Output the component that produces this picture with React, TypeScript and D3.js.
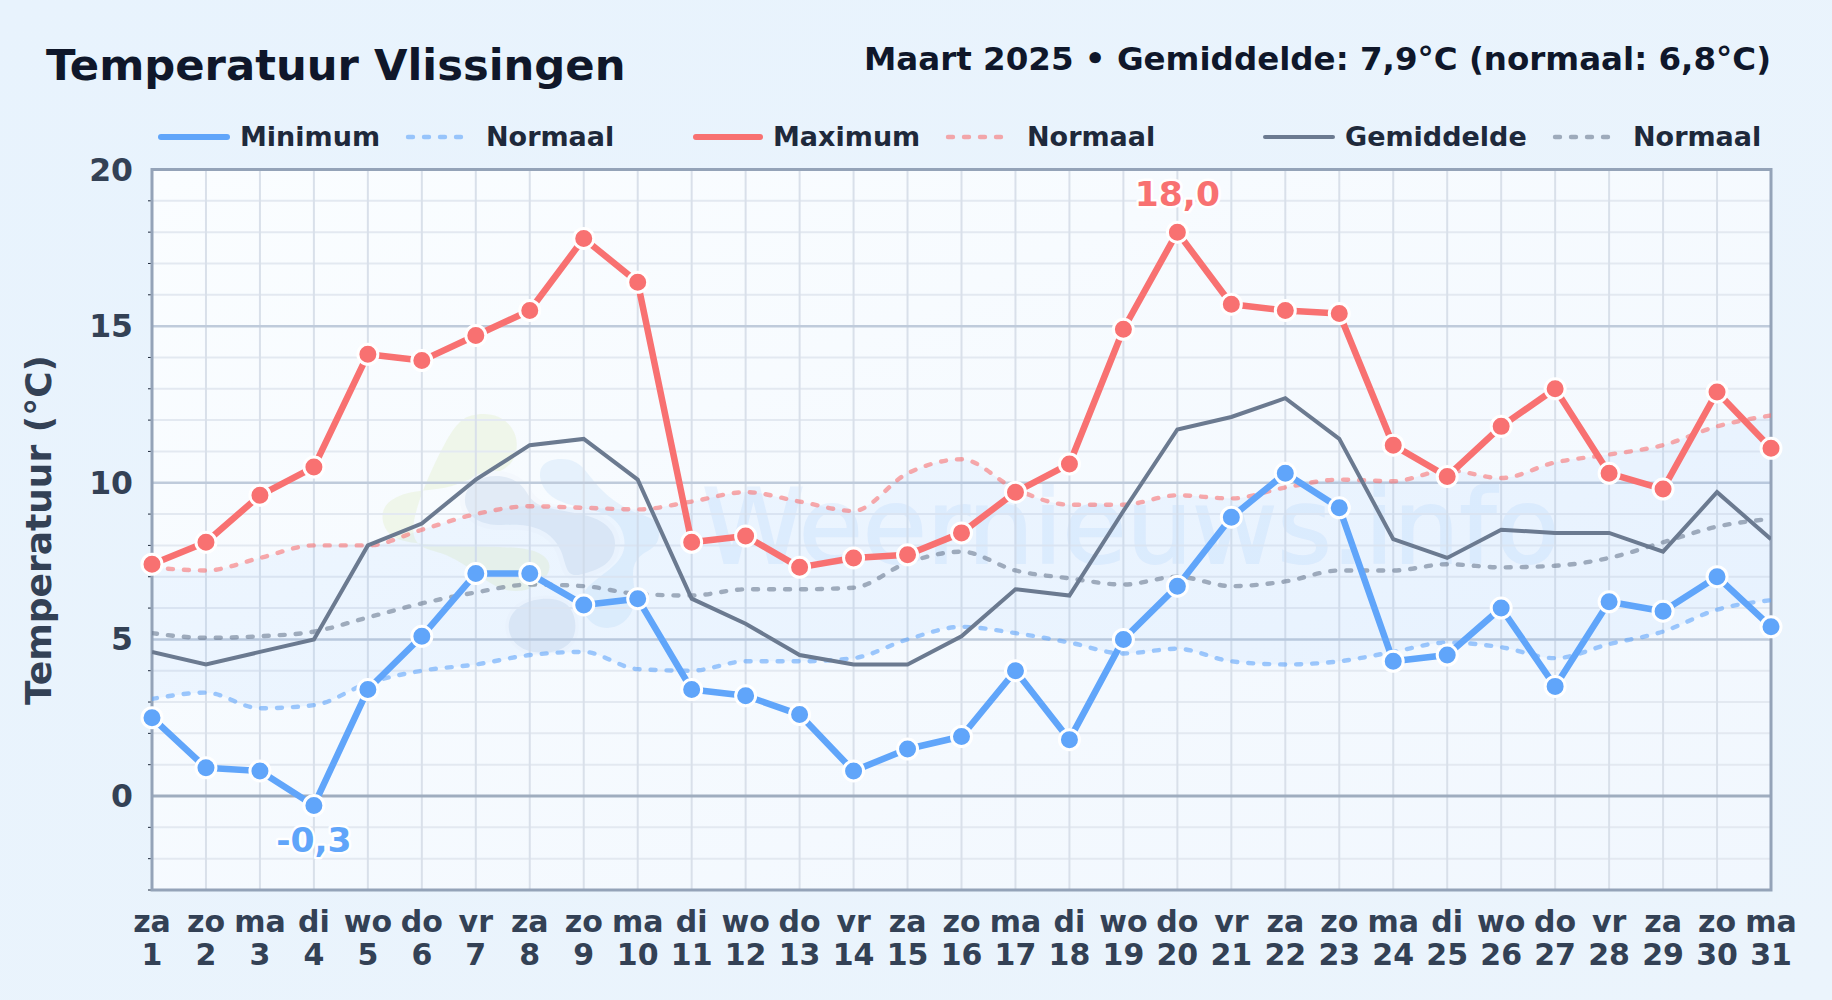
import React, { useEffect } from 'react';
import * as d3 from 'd3';

const weekdays = ['za','zo','ma','di','wo','do','vr','za','zo','ma','di','wo','do','vr','za','zo','ma','di','wo','do','vr','za','zo','ma','di','wo','do','vr','za','zo','ma'];
const days = d3.range(1, 32);

const minimum = [2.5,0.9,0.8,-0.3,3.4,5.1,7.1,7.1,6.1,6.3,3.4,3.2,2.6,0.8,1.5,1.9,4.0,1.8,5.0,6.7,8.9,10.3,9.2,4.3,4.5,6.0,3.5,6.2,5.9,7.0,5.4];
const maximum = [7.4,8.1,9.6,10.5,14.1,13.9,14.7,15.5,17.8,16.4,8.1,8.3,7.3,7.6,7.7,8.4,9.7,10.6,14.9,18.0,15.7,15.5,15.4,11.2,10.2,11.8,13.0,10.3,9.8,12.9,11.1];
const gemiddelde = [4.6,4.2,4.6,5.0,8.0,8.7,10.1,11.2,11.4,10.1,6.3,5.5,4.5,4.2,4.2,5.1,6.6,6.4,9.1,11.7,12.1,12.7,11.4,8.2,7.6,8.5,8.4,8.4,7.8,9.7,8.2];
const normaalMin = [3.1,3.3,2.8,2.9,3.6,4.0,4.2,4.5,4.6,4.05,4.0,4.3,4.3,4.4,5.0,5.4,5.2,4.9,4.55,4.7,4.3,4.2,4.3,4.6,4.9,4.75,4.4,4.85,5.25,5.95,6.25];
const normaalMax = [7.3,7.2,7.6,8.0,8.0,8.5,9.0,9.25,9.2,9.15,9.4,9.7,9.4,9.1,10.3,10.75,9.8,9.3,9.3,9.6,9.5,9.85,10.1,10.05,10.4,10.15,10.65,10.9,11.2,11.8,12.15];
const normaalGem = [5.2,5.05,5.1,5.25,5.7,6.15,6.5,6.75,6.7,6.45,6.4,6.6,6.6,6.65,7.45,7.8,7.2,6.95,6.75,7.0,6.7,6.85,7.2,7.2,7.4,7.3,7.35,7.6,8.1,8.6,8.85];

const majorTicks = [0, 5, 10, 15, 20];
const minorTicks = d3.range(-3, 21).filter(v => v % 5 !== 0);

const BLUE = '#60a5fa';
const RED = '#f87171';
const SLATE = '#6b7a90';
const FONT = '"DejaVu Sans", sans-serif';
const DASH = '5 11';

const legendItems = [
  { label: 'Minimum', color: BLUE, x1: 161, x2: 227, tx: 240, w: 6, dash: false, op: 1 },
  { label: 'Normaal', color: BLUE, x1: 408, x2: 464, tx: 486, w: 4.4, dash: true, op: 0.6 },
  { label: 'Maximum', color: RED, x1: 696, x2: 760, tx: 773, w: 6, dash: false, op: 1 },
  { label: 'Normaal', color: RED, x1: 948, x2: 1004, tx: 1027, w: 4.4, dash: true, op: 0.6 },
  { label: 'Gemiddelde', color: SLATE, x1: 1265, x2: 1333, tx: 1345, w: 4, dash: false, op: 1 },
  { label: 'Normaal', color: SLATE, x1: 1555, x2: 1619, tx: 1633, w: 4.4, dash: true, op: 0.6 },
];

// watermark logo outlines, in 3x pixels relative to its corner
const logoGreen: [number, number][] = [[270,110],[330,70],[420,70],[475,130],[470,210],[420,250],[340,260],[260,300],[150,300],[65,340],[65,410],[110,460],[300,470],[440,470],[540,480],[585,530],[530,600],[430,610],[350,550],[250,480],[110,470]];
const logoBlueA: [number, number][] = [[305,325],[340,265],[430,250],[500,290],[515,355],[700,370],[775,430],[760,520],[680,550],[620,565],[610,480],[560,420],[480,400],[400,410],[330,385]];
const logoBlueB: [number, number][] = [[440,690],[480,640],[560,620],[640,640],[655,740],[600,790],[500,790],[450,750]];
const logoSky: [number, number][] = [[530,250],[560,205],[650,205],[690,260],[740,320],[830,375],[900,385],[900,470],[840,490],[810,540],[835,640],[790,710],[720,720],[670,680],[650,600],[790,520],[800,440],[760,370],[640,350],[560,320]];

export default function App() {
  useEffect(() => {
    document.body.style.margin = '0';
  }, []);

  const left = 152, right = 1771, top = 169.5, bottom = 890;
  const x = d3.scaleLinear().domain([1, 31]).range([left, right]);
  const y = d3.scaleLinear().domain([-3, 20]).range([bottom, top]);

  const straight = d3.line<number>().x((_, i) => x(days[i])).y(d => y(d));
  const smooth = d3.line<number>().x((_, i) => x(days[i])).y(d => y(d)).curve(d3.curveMonotoneX);
  const band = d3.area<number>()
    .x((_, i) => x(days[i]))
    .y0((_, i) => y(normaalMin[i]))
    .y1(d => y(d))
    .curve(d3.curveMonotoneX);
  const blob = d3.line().curve(d3.curveBasisClosed);

  return (
    <svg width={1832} height={1000} style={{ display: 'block', fontFamily: FONT }}>
      <defs>
        <linearGradient id="pageBg" x1="0" y1="0" x2="1" y2="1">
          <stop offset="0%" stopColor="#e8f3fd" />
          <stop offset="100%" stopColor="#ebf4fc" />
        </linearGradient>
        <linearGradient id="plotBg" x1="0" y1="0" x2="1" y2="1">
          <stop offset="0%" stopColor="#fafdff" />
          <stop offset="100%" stopColor="#f1f7fe" />
        </linearGradient>
        <clipPath id="plotClip">
          <rect x={left} y={top} width={right - left} height={bottom - top} />
        </clipPath>
      </defs>

      <rect width={1832} height={1000} fill="url(#pageBg)" />
      <rect x={left} y={top} width={right - left} height={bottom - top} fill="url(#plotBg)" />

      {/* watermark logo + text */}
      <g transform="translate(360,390) scale(0.3333)">
        <path d={blob(logoGreen) || ''} fill="#edf5e6" fillOpacity={0.85} />
        <path d={blob(logoSky) || ''} fill="#e1effb" fillOpacity={0.8} />
        <path d={blob(logoBlueA) || ''} fill="#e2ebf6" stroke="#f4f8fd" strokeWidth={30} paintOrder="stroke" />
        <path d={blob(logoBlueB) || ''} fill="#e2ebf6" stroke="#f4f8fd" strokeWidth={20} paintOrder="stroke" />
      </g>
      <g opacity={0.1}>
        <text x={702} y={563} fontSize={104} fill={BLUE} stroke={BLUE} strokeWidth={2}>Weernieuws.info</text>
      </g>

      {/* grid */}
      {minorTicks.map(v => (
        <g key={v}>
          <line x1={left} x2={right} y1={y(v)} y2={y(v)} stroke="#e3e9f1" strokeWidth={2} />
          <line x1={left - 4} x2={left} y1={y(v)} y2={y(v)} stroke="#1e293b" strokeWidth={1} />
        </g>
      ))}
      {days.map(d => (
        <line key={d} x1={x(d)} x2={x(d)} y1={top} y2={bottom} stroke="#d9e0ea" strokeWidth={2} />
      ))}
      {majorTicks.map(v => (
        <line key={v} x1={left} x2={right} y1={y(v)} y2={y(v)} stroke={v === 0 ? '#9fadbf' : '#bfcbdb'} strokeWidth={v === 0 ? 3 : 2.5} />
      ))}

      <path d={band(normaalMax) || ''} fill={BLUE} fillOpacity={0.07} />

      <rect x={left} y={top} width={right - left} height={bottom - top} fill="none" stroke="#94a3b8" strokeWidth={3} />

      <g clipPath="url(#plotClip)" fill="none" strokeLinejoin="round" strokeLinecap="round" strokeWidth={4.4} strokeDasharray={DASH} strokeOpacity={0.6}>
        <path d={smooth(normaalMin) || ''} stroke={BLUE} />
        <path d={smooth(normaalMax) || ''} stroke={RED} />
        <path d={smooth(normaalGem) || ''} stroke={SLATE} />
      </g>
      <path d={straight(gemiddelde) || ''} fill="none" stroke={SLATE} strokeWidth={4} clipPath="url(#plotClip)" />
      <path d={straight(minimum) || ''} fill="none" stroke={BLUE} strokeWidth={6.5} strokeLinejoin="round" />
      <path d={straight(maximum) || ''} fill="none" stroke={RED} strokeWidth={6.5} strokeLinejoin="round" />
      {minimum.map((v, i) => (
        <circle key={i} cx={x(days[i])} cy={y(v)} r={10} fill={BLUE} stroke="#fff" strokeWidth={3} />
      ))}
      {maximum.map((v, i) => (
        <circle key={i} cx={x(days[i])} cy={y(v)} r={10} fill={RED} stroke="#fff" strokeWidth={3} />
      ))}

      {/* extremes */}
      <text x={x(20)} y={y(18) - 38} dy="0.35em" textAnchor="middle" fontSize={34.5} fontWeight={700} fill={RED} stroke="#fff" strokeWidth={5} paintOrder="stroke" strokeLinejoin="round">18,0</text>
      <text x={x(4)} y={y(-0.3) + 35} dy="0.35em" textAnchor="middle" fontSize={34.5} fontWeight={700} fill={BLUE} stroke="#fff" strokeWidth={5} paintOrder="stroke" strokeLinejoin="round">-0,3</text>

      {/* axes labels */}
      {majorTicks.map(v => (
        <text key={v} x={133} y={y(v)} dy="0.35em" textAnchor="end" fontSize={31.5} fontWeight={700} fill="#334155">{v}</text>
      ))}
      {days.map((d, i) => (
        <g key={d} textAnchor="middle" fontSize={30} fontWeight={700} fill="#334155">
          <text x={x(d)} y={921} dy="0.35em">{weekdays[i]}</text>
          <text x={x(d)} y={954} dy="0.35em">{d}</text>
        </g>
      ))}
      <text transform="translate(38,530) rotate(-90)" dy="0.35em" textAnchor="middle" fontSize={36} fontWeight={700} fill="#334155">Temperatuur (°C)</text>

      {/* header */}
      <text x={46} y={65} dy="0.35em" fontSize={43.3} fontWeight={700} fill="#0f172a">Temperatuur Vlissingen</text>
      <text x={1771} y={59} dy="0.35em" textAnchor="end" fontSize={32.5} fontWeight={700} fill="#0f172a">Maart 2025 • Gemiddelde: 7,9°C (normaal: 6,8°C)</text>

      {/* legend */}
      {legendItems.map((it, i) => (
        <g key={i}>
          <line x1={it.x1} x2={it.x2} y1={137} y2={137} stroke={it.color} strokeOpacity={it.op} strokeWidth={it.w} strokeDasharray={it.dash ? DASH : undefined} strokeLinecap="round" />
          <text x={it.tx} y={137} dy="0.35em" fontSize={27} fontWeight={700} fill="#1e293b">{it.label}</text>
        </g>
      ))}
    </svg>
  );
}
